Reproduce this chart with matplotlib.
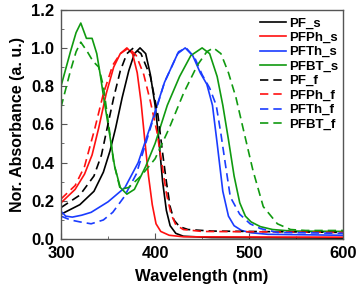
import matplotlib
matplotlib.use('Agg')
import matplotlib.pyplot as plt
import numpy as np
from matplotlib.ticker import MultipleLocator

plt.rcParams.update({"font.family": "Liberation Sans",
                     "font.weight": "bold",
                     "axes.labelweight": "bold"})

# PF_s (solution)
pf_s_x = [300, 320, 335, 345, 352, 358, 365, 372, 378, 384, 390, 395, 400, 404, 408, 412, 416, 422, 430, 460, 600]
pf_s_y = [0.13, 0.18, 0.25, 0.35, 0.46, 0.58, 0.74, 0.88, 0.97, 1.0, 0.97, 0.86, 0.70, 0.52, 0.30, 0.15, 0.07, 0.03, 0.015, 0.008, 0.005]
# PFPh_s
pfph_s_x = [300, 315, 325, 333, 340, 348, 356, 363, 370, 376, 381, 385, 389, 393, 397, 401, 406, 415, 430, 600]
pfph_s_y = [0.19, 0.26, 0.34, 0.44, 0.58, 0.76, 0.90, 0.97, 1.0, 0.97, 0.87, 0.72, 0.52, 0.33, 0.18, 0.08, 0.04, 0.02, 0.012, 0.01]
# PFTh_s
pfth_s_x = [300, 305, 312, 322, 332, 350, 368, 382, 395, 410, 424, 432, 440, 448, 455, 461, 466, 472, 478, 484, 492, 502, 520, 600]
pfth_s_y = [0.145, 0.12, 0.115, 0.125, 0.14, 0.195, 0.27, 0.40, 0.59, 0.82, 0.97, 1.0, 0.96, 0.87, 0.81, 0.70, 0.50, 0.25, 0.12, 0.07, 0.045, 0.033, 0.025, 0.02]
# PFBT_s
pfbt_s_x = [300, 310, 316, 321, 327, 333, 338, 342, 346, 350, 357, 363, 370, 378, 390, 400, 413, 426, 438, 450, 458, 466, 472, 478, 484, 490, 496, 502, 512, 525, 545, 600]
pfbt_s_y = [0.80, 0.98, 1.08, 1.13, 1.05, 1.05, 0.97, 0.85, 0.72, 0.60, 0.38, 0.27, 0.235, 0.26, 0.38, 0.50, 0.70, 0.85, 0.96, 1.0, 0.97, 0.85, 0.70, 0.52, 0.33, 0.19, 0.12, 0.09, 0.065, 0.05, 0.042, 0.04]

# PF_f (film)
pf_f_x = [300, 320, 335, 343, 349, 356, 363, 370, 377, 385, 395, 403, 408, 412, 416, 420, 426, 435, 460, 600]
pf_f_y = [0.165, 0.23, 0.33, 0.44, 0.58, 0.74, 0.88, 0.97, 1.0, 0.97, 0.85, 0.65, 0.45, 0.30, 0.17, 0.10, 0.065, 0.05, 0.042, 0.035]
# PFPh_f
pfph_f_x = [300, 315, 325, 336, 345, 355, 363, 372, 380, 388, 395, 402, 407, 412, 417, 422, 430, 450, 600]
pfph_f_y = [0.21, 0.28, 0.38, 0.58, 0.76, 0.91, 0.97, 1.0, 0.96, 0.86, 0.72, 0.56, 0.40, 0.24, 0.13, 0.075, 0.05, 0.04, 0.035]
# PFTh_f
pfth_f_x = [300, 310, 320, 332, 345, 355, 367, 380, 395, 410, 425, 433, 442, 450, 458, 465, 470, 476, 480, 490, 501, 512, 530, 600]
pfth_f_y = [0.12, 0.10, 0.09, 0.08, 0.10, 0.14, 0.22, 0.34, 0.58, 0.82, 0.98, 1.0, 0.95, 0.86, 0.79, 0.70, 0.55, 0.35, 0.22, 0.13, 0.08, 0.055, 0.035, 0.03]
# PFBT_f
pfbt_f_x = [300, 310, 316, 321, 328, 334, 340, 345, 350, 356, 363, 372, 385, 400, 415, 430, 445, 455, 462, 470, 478, 486, 494, 504, 515, 530, 544, 560, 600]
pfbt_f_y = [0.69, 0.88, 0.98, 1.03, 0.98, 0.93, 0.90, 0.80, 0.62, 0.40, 0.26, 0.27, 0.33, 0.42, 0.58, 0.76, 0.91, 0.98, 1.0, 0.97, 0.87, 0.74, 0.57, 0.36, 0.17, 0.08, 0.05, 0.045, 0.045]

names = ['PF', 'PFPh', 'PFTh', 'PFBT']
colors = ['black', '#ff1010', '#1a3cff', '#109a10']
sol = [(pf_s_x, pf_s_y), (pfph_s_x, pfph_s_y), (pfth_s_x, pfth_s_y), (pfbt_s_x, pfbt_s_y)]
film = [(pf_f_x, pf_f_y), (pfph_f_x, pfph_f_y), (pfth_f_x, pfth_f_y), (pfbt_f_x, pfbt_f_y)]

fig = plt.figure(figsize=(3.59, 2.93), dpi=100)
ax = fig.add_axes([0.170, 0.184, 0.786, 0.783])

for n, c, (x, y) in zip(names, colors, sol):
    ax.plot(x, y, '-', color=c, lw=1.2, label=n + '_s')
for n, c, (x, y) in zip(names, colors, film):
    ax.plot(x, y, '--', color=c, lw=1.2, dashes=(5, 3), label=n + '_f')

ax.set_xlim(300, 600)
ax.set_ylim(0, 1.2)
ax.xaxis.set_major_locator(MultipleLocator(100))
ax.xaxis.set_minor_locator(MultipleLocator(50))
ax.yaxis.set_major_locator(MultipleLocator(0.2))
ax.yaxis.set_minor_locator(MultipleLocator(0.1))
ax.yaxis.set_major_formatter(matplotlib.ticker.FormatStrFormatter('%.1f'))
ax.tick_params(which='both', direction='in', labelsize=12, color='#555555')
ax.tick_params(which='major', length=4, pad=5)
ax.tick_params(which='minor', length=2)
for s in ax.spines.values():
    s.set_color('#555555')
    s.set_linewidth(1.0)

ax.set_xlabel('Wavelength (nm)', fontsize=12, labelpad=6)
ax.set_ylabel('Nor. Absorbance (a. u.)', fontsize=11.5)

ax.legend(loc='upper right', bbox_to_anchor=(0.995, 0.985), frameon=False,
          fontsize=9.5, handlelength=2.0, labelspacing=0.17, handletextpad=0.2,
          borderpad=0.1, borderaxespad=0.2)

plt.savefig('out.png', dpi=100)
